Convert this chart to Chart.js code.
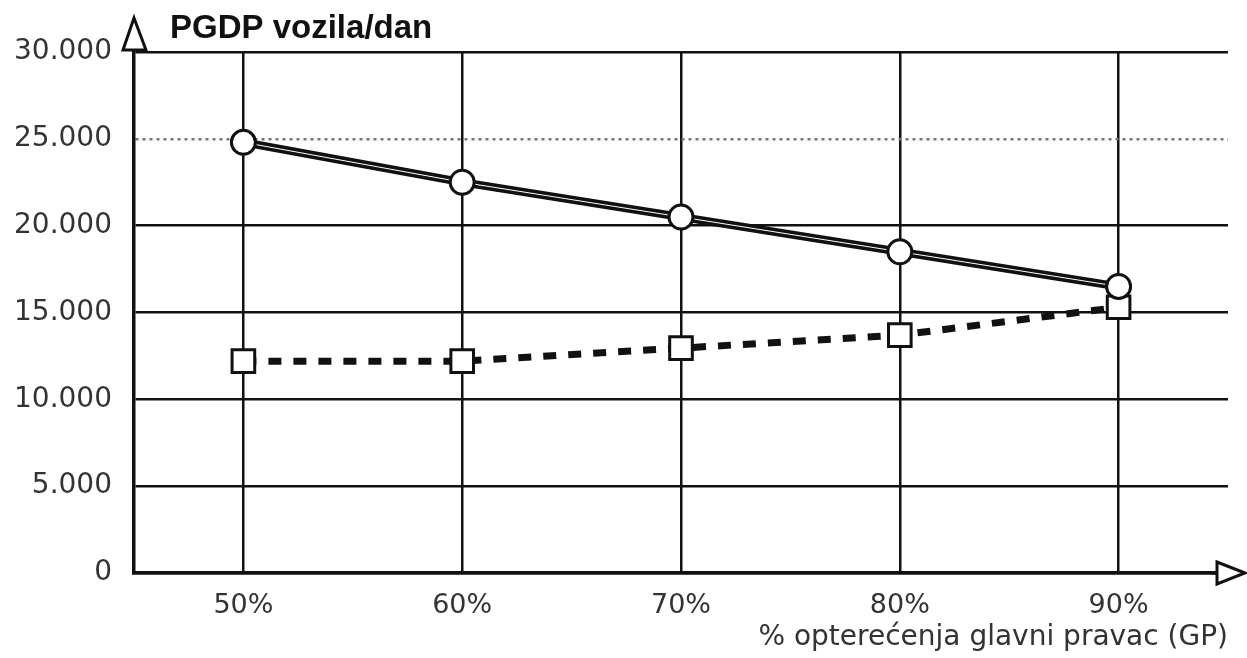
<!DOCTYPE html>
<html>
<head>
<meta charset="utf-8">
<script src="https://cdn.jsdelivr.net/npm/chart.js@4/dist/chart.umd.min.js"></script>
<style>
  html, body { margin: 0; padding: 0; background: #fff; }
  #wrap { width: 1247px; height: 658px; position: relative; }
</style>
</head>
<body>
<div id="wrap"><canvas id="pgdpChart"></canvas></div>
<script>
// podaci očitani sa grafika
const kategorije = ['50%', '60%', '70%', '80%', '90%'];
const krugovi = [24800, 22500, 20500, 18500, 16500];   // puna linija
const kvadrati = [12200, 12200, 12950, 13700, 15300];  // isprekidana linija
const yTicks = [0, 5000, 10000, 15000, 20000, 25000, 30000];

const naslov = 'PGDP vozila/dan';
const xNaslov = '% opterećenja glavni pravac (GP)';

const fontLabel = '"DejaVu Sans", sans-serif';

// strelice na osama i naslov
const strelicePlugin = {
    id: 'strelice',
    afterDraw(chart) {
        const ctx = chart.ctx;
        const a = chart.chartArea;
        ctx.save();
        ctx.strokeStyle = '#111';
        ctx.fillStyle = '#fff';
        ctx.lineWidth = 3;
        // y strelica
        ctx.beginPath();
        ctx.moveTo(a.left, 18);
        ctx.lineTo(a.left + 12, a.top - 2);
        ctx.lineTo(a.left - 11, a.top - 2);
        ctx.closePath();
        ctx.fill();
        ctx.stroke();
        // x strelica
        ctx.beginPath();
        ctx.moveTo(a.right, a.bottom);
        ctx.lineTo(a.right - 16, a.bottom);
        ctx.stroke();
        ctx.beginPath();
        ctx.moveTo(1245, a.bottom);
        ctx.lineTo(1217, a.bottom - 11);
        ctx.lineTo(1217, a.bottom + 11);
        ctx.closePath();
        ctx.fill();
        ctx.stroke();
        // naslov
        ctx.fillStyle = '#111';
        ctx.font = 'bold 33px "Liberation Sans", Arial, sans-serif';
        ctx.textBaseline = 'alphabetic';
        ctx.textAlign = 'left';
        ctx.fillText(naslov, 170, 38);
        ctx.restore();
    }
};

const ctx = document.getElementById('pgdpChart').getContext('2d');
new Chart(ctx, {
    type: 'line',
    data: {
        labels: kategorije,
        datasets: [
            {
                // markeri krug
                data: krugovi,
                showLine: false,
                pointStyle: 'circle',
                pointRadius: 12,
                pointBackgroundColor: '#fff',
                pointBorderColor: '#111',
                pointBorderWidth: 3,
                order: 1
            },
            {
                // markeri kvadrat
                data: kvadrati,
                showLine: false,
                pointStyle: 'rect',
                pointRadius: 16,
                pointBackgroundColor: '#fff',
                pointBorderColor: '#111',
                pointBorderWidth: 3,
                order: 2
            },
            {
                data: krugovi,
                borderColor: '#fff',
                borderWidth: 1,
                pointRadius: 0,
                order: 3
            },
            {
                data: krugovi,
                borderColor: '#111',
                borderWidth: 8,
                pointRadius: 0,
                order: 5
            },
            {
                data: kvadrati,
                borderColor: '#111',
                borderWidth: 7,
                borderDash: [13, 12],
                borderCapStyle: 'butt',
                pointRadius: 0,
                order: 6
            }
        ]
    },
    options: {
        responsive: true,
        maintainAspectRatio: false,
        animation: false,
        layout: { padding: { left: 0, right: 13, top: 52, bottom: 0 } },
        plugins: {
            legend: { display: false },
            tooltip: { enabled: false }
        },
        scales: {
            x: {
                type: 'category',
                offset: true,
                grid: {
                    offset: false,
                    color: '#111',
                    lineWidth: 2.5,
                    drawTicks: false
                },
                border: { display: true, color: '#111', width: 3.5 },
                ticks: {
                    color: '#333',
                    font: { family: fontLabel, size: 27 },
                    padding: 17
                },
                title: {
                    display: true,
                    text: xNaslov,
                    align: 'end',
                    color: '#333',
                    font: { family: fontLabel, size: 28 },
                    padding: { top: 0, bottom: 3 }
                },
                afterFit(scale) { scale.height = 85; }
            },
            y: {
                min: 0,
                max: 30000,
                afterBuildTicks(scale) {
                    scale.ticks = yTicks.map(v => ({ value: v }));
                },
                grid: {
                    color: ctx => ctx.tick && ctx.tick.value === 25000 ? '#777' : '#111',
                    lineWidth: 2.5,
                    drawTicks: false
                },
                border: {
                    display: true,
                    color: '#111',
                    width: 3.5,
                    dash: ctx => ctx.tick && ctx.tick.value === 25000 ? [3, 4] : []
                },
                ticks: {
                    color: '#333',
                    font: { family: fontLabel, size: 28 },
                    padding: 22,
                    callback: v => v === 0 ? '0' : v.toLocaleString('de-DE')
                },
                afterFit(scale) { scale.width = 134; }
            }
        }
    },
    plugins: [strelicePlugin]
});
</script>
</body>
</html>
